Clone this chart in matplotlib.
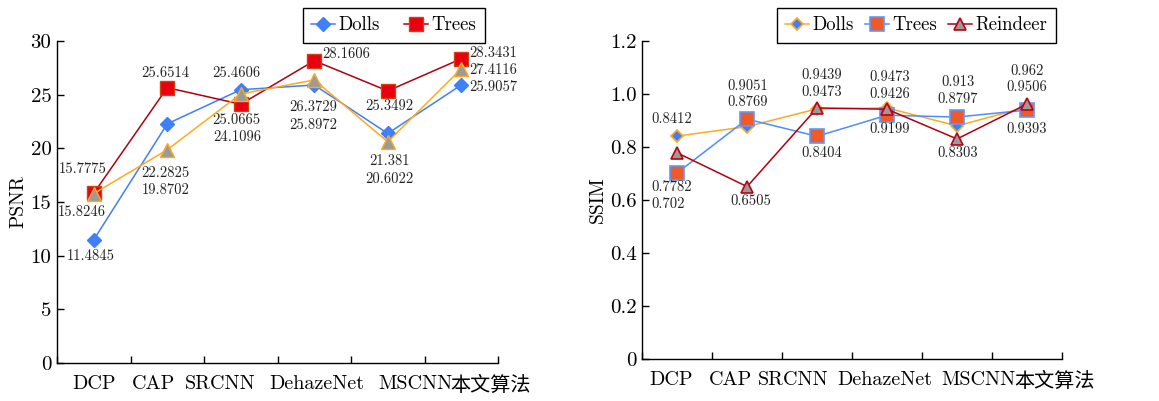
import numpy as np
import matplotlib
matplotlib.use('Agg')
import matplotlib.pyplot as plt
from matplotlib.ticker import FixedLocator, NullFormatter

plt.rcParams['font.family'] = ['cmr10', 'Noto Sans CJK SC']
plt.rcParams['mathtext.fontset'] = 'cm'
plt.rcParams['axes.formatter.use_mathtext'] = True
plt.rcParams['axes.unicode_minus'] = False

methods = ['DCP', 'CAP', 'SRCNN', 'DehazeNet', 'MSCNN', '本文算法']

# PSNR
psnr_dolls = [11.4845, 22.2825, 25.4606, 25.8972, 21.381, 25.9057]
psnr_trees = [15.8246, 25.6514, 24.1096, 28.1606, 25.3492, 28.3431]
psnr_reindeer = [15.7775, 19.8702, 25.0665, 26.3729, 20.6022, 27.4116]

# SSIM
ssim_dolls = [0.8412, 0.8769, 0.9439, 0.9473, 0.8797, 0.9506]
ssim_trees = [0.702, 0.9051, 0.8404, 0.9199, 0.913, 0.9393]
ssim_reindeer = [0.7782, 0.6505, 0.9473, 0.9426, 0.8303, 0.962]

# 标注偏移 (像素)
psnr_off_dolls = [(-3, -16), (-2, -49), (-4, 17), (-1, -40), (2, -28), (32, -2)]
psnr_off_trees = [(-12, -19), (-2, 15), (-4, -33), (32, 7), (2, -15), (32, 6)]
psnr_off_reindeer = [(-11, 24), (-2, -40), (-4, -26), (-1, -27), (2, -37), (32, -1)]
ssim_off_dolls = [(-5, 17), (1, 24), (5, 34), (3, 31), (1, 27), (0, 20)]
ssim_off_trees = [(-9, -31), (1, 33), (5, -17), (3, -14), (1, 35), (0, -19)]
ssim_off_reindeer = [(-5, -34), (4, -15), (5, 16), (3, 15), (1, -14), (0, 33)]

# 横轴标签的水平偏移 (类别单位)
psnr_label_shift = [0.0, -0.19, -0.28, 0.04, 0.37, 0.40]
ssim_label_shift = [-0.09, -0.24, -0.34, -0.03, 0.31, 0.40]

BLUE = '#3f7ff8'
RED_LINE = '#b00010'
RED = '#e80010'
ORANGE = '#ffaa1e'
GRAY = '#9a9a9a'
SQ_ORANGE = '#f05a28'

fig = plt.figure(figsize=(11.59, 4.01), dpi=100)
ax1 = fig.add_axes([0.0492, 0.0948, 0.3805, 0.803])
ax2 = fig.add_axes([0.554, 0.1047, 0.3623, 0.7931])

x = np.arange(len(methods))


def label_points(ax, vals, offs):
    for xi, v, (dx, dy) in zip(x, vals, offs):
        ax.annotate(f'{v:g}', xy=(xi, v), xytext=(dx, dy), textcoords='offset pixels',
                    ha='center', va='center', fontsize=10.5, color='#222222')


def style_axes(ax, ylim, yticks, ylabels, ylabel, shift):
    ax.set_xlim(-0.5, len(methods) - 0.5)
    ax.set_ylim(*ylim)
    for s in ['top', 'right']:
        ax.spines[s].set_visible(False)
    ax.xaxis.set_major_locator(FixedLocator(np.arange(-0.5, len(methods))))
    ax.xaxis.set_major_formatter(NullFormatter())
    ax.xaxis.set_minor_locator(FixedLocator(x + np.array(shift)))
    ax.set_xticklabels(methods, minor=True, fontsize=14.5)
    ax.tick_params(axis='x', which='major', direction='in', length=5, width=1)
    ax.tick_params(axis='x', which='minor', length=0, pad=9)
    ax.set_yticks(yticks)
    ax.set_yticklabels(ylabels, fontsize=15)
    ax.tick_params(axis='y', direction='in', length=5, width=1, pad=4)
    ax.set_ylabel(ylabel, fontsize=14, labelpad=2)
    for s in ['left', 'bottom']:
        ax.spines[s].set_linewidth(1.0)


leg_kw = dict(fontsize=13.5, frameon=True, fancybox=False, edgecolor='black',
              framealpha=1, handlelength=1.25, handletextpad=0.2, borderpad=0.45,
              borderaxespad=0)

# 左图: PSNR
ax1.plot(x, psnr_dolls, color=BLUE, lw=1.1, marker='D', ms=7.5, mfc=BLUE, mec=BLUE, label='Dolls', zorder=3)
ax1.plot(x, psnr_trees, color=RED_LINE, lw=1.1, marker='s', ms=9.5, mfc=RED, mec='#d04010', label='Trees', zorder=3)
ax1.plot(x, psnr_reindeer, color=ORANGE, lw=1.1, marker='^', ms=10, mfc=GRAY, mec=ORANGE, zorder=4)
label_points(ax1, psnr_dolls, psnr_off_dolls)
label_points(ax1, psnr_trees, psnr_off_trees)
label_points(ax1, psnr_reindeer, psnr_off_reindeer)
style_axes(ax1, (0, 30), [0, 5, 10, 15, 20, 25, 30],
           ['0', '5', '10', '15', '20', '25', '30'], 'PSNR', psnr_label_shift)
ax1.legend(loc='upper left', bbox_to_anchor=(303 / 1159, 1 - 8 / 401),
           bbox_transform=fig.transFigure, ncol=2, columnspacing=1.3, **leg_kw)

# 右图: SSIM
ax2.plot(x, ssim_dolls, color=ORANGE, lw=1.1, marker='D', ms=6.5, mfc=BLUE, mec=ORANGE, mew=1.2, label='Dolls', zorder=3)
ax2.plot(x, ssim_trees, color='#4d8dff', lw=1.1, marker='s', ms=9.5, mfc=SQ_ORANGE, mec='#5a9aff', mew=1.2, label='Trees', zorder=3)
ax2.plot(x, ssim_reindeer, color=RED_LINE, lw=1.1, marker='^', ms=9, mfc=GRAY, mec='#c00010', mew=1.2, label='Reindeer', zorder=4)
label_points(ax2, ssim_dolls, ssim_off_dolls)
label_points(ax2, ssim_trees, ssim_off_trees)
label_points(ax2, ssim_reindeer, ssim_off_reindeer)
style_axes(ax2, (0, 1.2), [0, 0.2, 0.4, 0.6, 0.8, 1.0, 1.2],
           ['0', '0.2', '0.4', '0.6', '0.8', '1.0', '1.2'], 'SSIM', ssim_label_shift)
ax2.legend(loc='upper left', bbox_to_anchor=(777 / 1159, 1 - 8 / 401),
           bbox_transform=fig.transFigure, ncol=3, columnspacing=0.6, **leg_kw)

fig.savefig('out.png', dpi=100)
